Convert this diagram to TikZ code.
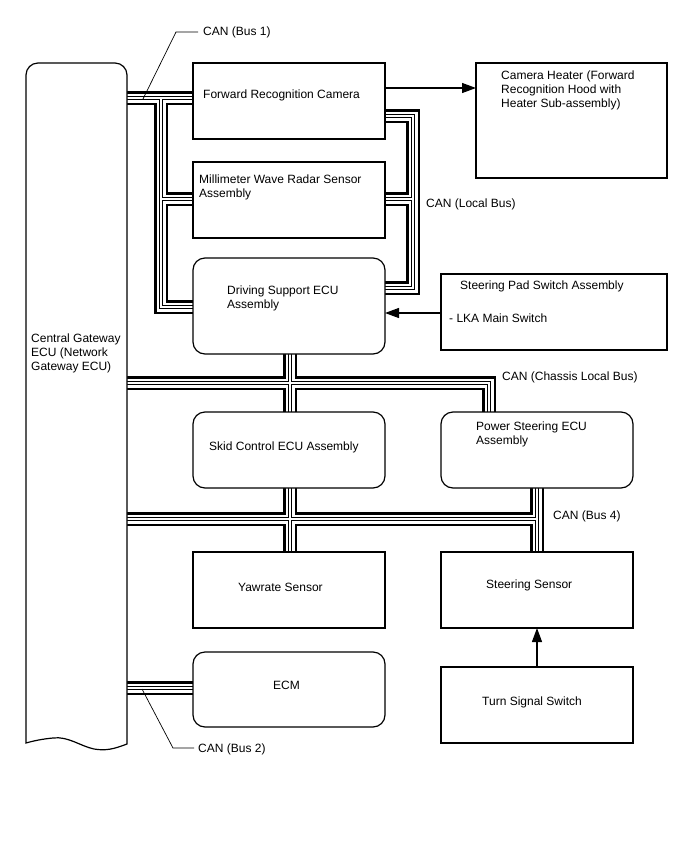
\documentclass[tikz,border=0pt]{standalone}
\usepackage{fontspec}
\setmainfont{Liberation Sans}
\usetikzlibrary{arrows.meta,calc}
\pgfdeclarelayer{background}
\pgfsetlayers{background,main}
\begin{document}
\begin{tikzpicture}[x=1pt,y=-1pt,
  box/.style={draw,line width=1.2pt,fill=white,anchor=north west,minimum width=192,minimum height=76,inner sep=0pt,outer sep=0pt},
  rbox/.style={box,rounded corners=12pt},
  txt/.style={anchor=base west,inner sep=0pt,font=\fontsize{12}{14}\selectfont},
  mtxt/.style={anchor=north west,inner sep=0pt,align=left,font=\fontsize{12}{14}\selectfont},
  lead/.style={line width=0.7pt},
  sig/.style={line width=1.2pt,-{Triangle[length=14pt,width=10pt]}},
]
\useasboundingbox (0,0) rectangle (688,852);

% boxes
\node[anchor=north west,minimum width=101,minimum height=681,inner sep=0pt,outer sep=0pt] (gw) at (26,63) {};
\draw[line width=1.2pt,fill=white] (26,743) -- (26,75) .. controls (26,68.4) and (31.4,63) .. (38,63)
  -- (115,63) .. controls (121.6,63) and (127,68.4) .. (127,75) -- (127,744)
  .. controls (114,749) and (106,751) .. (94,749)
  .. controls (80,746) and (68,736) .. (53,738)
  .. controls (42,739) and (33,741) .. (26,743) -- cycle;
\node[box] (frc) at (193,63) {};
\node[box,minimum width=191,minimum height=115] (heater) at (476,63) {};
\node[box] (mwrs) at (193,162) {};
\node[rbox,minimum height=96] (dsecu) at (193,258) {};
\node[box,minimum width=226] (pad) at (441,274) {};
\node[rbox] (skid) at (193,412) {};
\node[rbox] (ps) at (441,412) {};
\node[box] (yaw) at (193,552) {};
\node[box] (ss) at (441,552) {};
\node[rbox,minimum height=75] (ecm) at (193,652) {};
\node[box] (turn) at (441,667) {};

% level helpers
\coordinate (yA) at (0,98);
\coordinate (yB) at (0,199);
\coordinate (yC) at (0,307);
\coordinate (yD) at (0,116);
\coordinate (yE) at (0,288);
\coordinate (yF) at (0,383);
\coordinate (yG) at (0,519);
\coordinate (yH) at (0,688);
\coordinate (yh) at (0,88);
\coordinate (yp) at (0,313);
\coordinate (xL) at (161,0);
\coordinate (xR) at (413,0);
\coordinate (xM) at (290,0);
\coordinate (xP) at (489,0);
\coordinate (xS) at (537,0);

% buses
\begin{pgfonlayer}{background}
\foreach \w/\c in {14/black,9/white,4.8/black,2.4/white}{
  \draw[line width=\w pt,\c,line cap=butt,line join=miter]
    (gw.east |- yA) -- (frc.west |- yA)
    (xL |- yA) -- (xL |- yC) -- (dsecu.west |- yC)
    (xL |- yB) -- (mwrs.west |- yB)
    (frc.east |- yD) -- (xR |- yD) -- (xR |- yE) -- (dsecu.east |- yE)
    (xR |- yB) -- (mwrs.east |- yB)
    (gw.east |- yF) -- (xP |- yF) -- (xP |- ps.north)
    (xM |- dsecu.south) -- (xM |- skid.north)
    (gw.east |- yG) -- (xS |- yG)
    (xS |- ps.south) -- (xS |- ss.north)
    (xM |- skid.south) -- (xM |- yaw.north)
    (gw.east |- yH) -- (ecm.west |- yH);
}
\end{pgfonlayer}

% signal arrows
\draw[sig] (frc.east |- yh) -- (heater.west |- yh);
\draw[sig] (pad.west |- yp) -- (dsecu.east |- yp);
\draw[sig] (turn.north) -- (ss.south);

% texts
\node[txt] (t1) at (203,35.3) {CAN (Bus 1)};
\node[txt] (tfrc) at (203,98.3) {Forward Recognition Camera};
\node[mtxt] (theat) at (501,70.6) {Camera Heater (Forward\\Recognition Hood with\\Heater Sub-assembly)};
\node[mtxt] (tmw) at (199,174.6) {Millimeter Wave Radar Sensor\\Assembly};
\node[txt] (tlb) at (426,207.3) {CAN (Local Bus)};
\node[mtxt] (tds) at (227,285.6) {Driving Support ECU\\Assembly};
\node[txt] (tpad) at (460,289.3) {Steering Pad Switch Assembly};
\node[txt] (tlka) at (449,322.3) {- LKA Main Switch};
\node[mtxt] (tgw) at (31,333.6) {Central Gateway\\ECU (Network\\Gateway ECU)};
\node[txt] (tcl) at (502,380.3) {CAN (Chassis Local Bus)};
\node[txt] (tsk) at (209,450.3) {Skid Control ECU Assembly};
\node[mtxt] (tps) at (476,421.6) {Power Steering ECU\\Assembly};
\node[txt] (tb4) at (553,519.3) {CAN (Bus 4)};
\node[txt] (tyaw) at (238,591.3) {Yawrate Sensor};
\node[txt] (tss) at (486,588.3) {Steering Sensor};
\node[txt] (tecm) at (273,689.3) {ECM};
\node[txt] (tturn) at (482,705.3) {Turn Signal Switch};
\node[txt] (t2) at (198,752.3) {CAN (Bus 2)};

% leaders
\coordinate (l1a) at (143,99);
\coordinate (l1b) at (176,32);
\coordinate (l1c) at (198,32);
\draw[lead] (l1a) -- (l1b) -- (l1c);
\coordinate (l2a) at (142,689);
\coordinate (l2b) at (173,748);
\coordinate (l2c) at (194,748);
\draw[lead] (l2a) -- (l2b) -- (l2c);
\end{tikzpicture}
\end{document}
